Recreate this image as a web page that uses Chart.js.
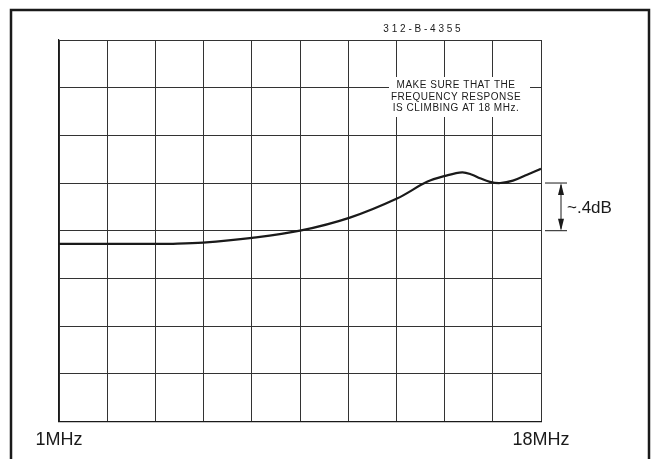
<!DOCTYPE html>
<html lang="en">
<head>
    <meta charset="UTF-8">
    <title>Frequency response 1MHz - 18MHz</title>
    <script src="https://cdn.jsdelivr.net/npm/chart.js"></script>
    <style>
        body { margin: 0; background: #fff; }
        .box { width: 657px; height: 459px; position: relative; }
    </style>
</head>
<body>
    <div class="box">
        <canvas id="respChart"></canvas>
    </div>

    <script>
        // frequency in MHz, response in dB (0 = reference line)
        const freqMHz = [1, 2.73, 4.46, 5.02, 6.08, 7.81, 9.5, 11.26, 12.92, 13.98, 14.62, 15.22, 15.57, 15.85, 16.2, 16.56, 17.01, 17.51, 18];
        const responseDb = [-0.11, -0.11, -0.11, -0.11, -0.1, -0.06, 0, 0.11, 0.27, 0.41, 0.46, 0.49, 0.47, 0.44, 0.41, 0.4, 0.42, 0.47, 0.52];
        const tickLabels = ['1MHz', '18MHz'];
        const partNumber = '312-B-4355';
        const noteLines = ['MAKE SURE THAT THE', 'FREQUENCY RESPONSE', 'IS CLIMBING AT 18 MHz.'];
        const stepLabel = '~.4dB';
        const stepDb = [0, 0.4];

        const ink = '#1a1a1a';

        const extras = {
            id: 'extras',
            beforeDatasetsDraw(chart) {
                const c = chart.ctx;
                c.save();
                // white patch behind the note
                c.fillStyle = '#fff';
                c.fillRect(389, 77, 141, 40);
                c.fillStyle = ink;
                c.font = '10px "Liberation Sans", Arial, sans-serif';
                c.letterSpacing = '0.5px';
                c.textAlign = 'center';
                c.textBaseline = 'middle';
                noteLines.forEach((t, i) => c.fillText(t, 456, 85 + i * 11.8));
                c.restore();
            },
            afterDraw(chart) {
                const c = chart.ctx;
                const y = chart.scales.y;
                c.save();
                c.strokeStyle = ink;
                c.fillStyle = ink;
                // outer frame
                c.lineWidth = 2.5;
                c.beginPath();
                c.moveTo(11, 470);
                c.lineTo(11, 10);
                c.lineTo(649, 10);
                c.lineTo(649, 470);
                c.stroke();

                // part number
                c.font = '10px "Liberation Sans", Arial, sans-serif';
                c.textAlign = 'center';
                c.textBaseline = 'middle';
                c.fillText(partNumber.split('').join(' '), 422, 29);

                // dimension marks
                const yTop = y.getPixelForValue(stepDb[1]);
                const yBot = y.getPixelForValue(stepDb[0]);
                c.lineWidth = 1;
                c.beginPath();
                c.moveTo(545, yTop); c.lineTo(567, yTop);
                c.moveTo(545, yBot); c.lineTo(567, yBot);
                c.moveTo(561, yTop + 2); c.lineTo(561, yBot - 2);
                c.stroke();
                c.beginPath();
                c.moveTo(561, yTop); c.lineTo(558, yTop + 12); c.lineTo(564, yTop + 12); c.closePath();
                c.moveTo(561, yBot); c.lineTo(558, yBot - 12); c.lineTo(564, yBot - 12); c.closePath();
                c.fill();

                c.font = '17px "Liberation Sans", Arial, sans-serif';
                c.textAlign = 'left';
                c.fillText(stepLabel, 567, (yTop + yBot) / 2 + 1);
                c.restore();
            }
        };

        const ctx = document.getElementById('respChart').getContext('2d');
        const respChart = new Chart(ctx, {
            type: 'line',
            data: {
                datasets: [{
                    data: freqMHz.map((f, i) => ({ x: f, y: responseDb[i] })),
                    borderColor: ink,
                    borderWidth: 2.2,
                    pointRadius: 0,
                    tension: 0.35,
                    fill: false
                }]
            },
            options: {
                responsive: true,
                maintainAspectRatio: false,
                animation: false,
                layout: { padding: { left: 59, right: 116, top: 40, bottom: 0 } },
                plugins: { legend: { display: false }, tooltip: { enabled: false } },
                scales: {
                    x: {
                        type: 'linear',
                        min: 1,
                        max: 18,
                        border: { color: ink, width: 1.2 },
                        grid: { color: '#333', lineWidth: 1, drawTicks: false },
                        ticks: {
                            stepSize: 1.7,
                            autoSkip: false,
                            maxRotation: 0,
                            padding: 8,
                            color: ink,
                            font: { family: '"Liberation Sans", Arial, sans-serif', size: 18 },
                            callback: (v, i, arr) => i === 0 ? tickLabels[0] : (i === arr.length - 1 ? tickLabels[1] : '')
                        }
                    },
                    y: {
                        min: -1.6,
                        max: 1.6,
                        border: { color: ink, width: 1.2 },
                        grid: { color: '#333', lineWidth: 1, drawTicks: false },
                        ticks: { stepSize: 0.4, display: false }
                    }
                }
            },
            plugins: [extras]
        });
    </script>
</body>
</html>
